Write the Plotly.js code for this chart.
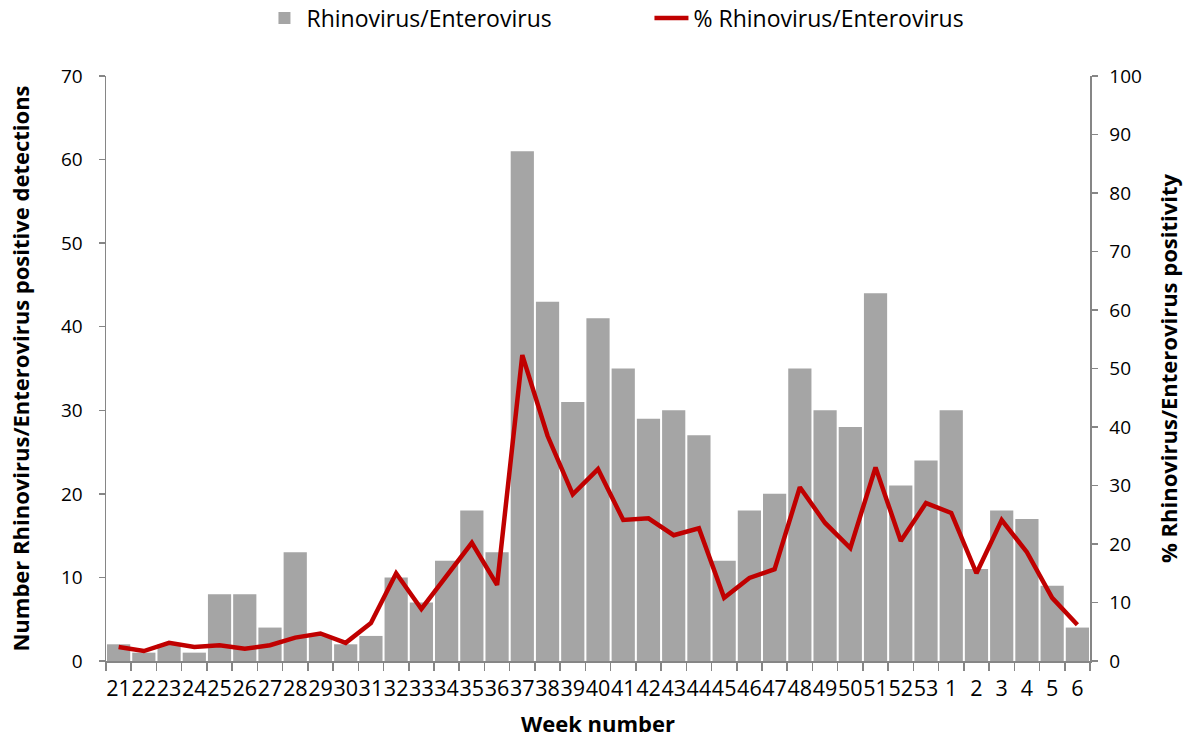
<!DOCTYPE html>
<html>
<head>
<meta charset="utf-8">
<script src="https://cdn.plot.ly/plotly-3.0.1.min.js"></script>
<style>html,body{margin:0;padding:0;background:#fff;}#chart{width:1184px;height:738px;}</style>
</head>
<body>
<div id="chart"></div>
<script>
var weeks = ["21","22","23","24","25","26","27","28","29","30","31","32","33","34","35","36","37","38","39","40","41","42","43","44","45","46","47","48","49","50","51","52","53","1","2","3","4","5","6"];
var detections = [2,1,2,1,8,8,4,13,3,2,3,10,7,12,18,13,61,43,31,41,35,29,30,27,12,18,20,35,30,28,44,21,24,30,11,18,17,9,4];
var positivity = [2.4,1.7,3.1,2.4,2.7,2.1,2.7,4.0,4.7,3.1,6.5,15.0,8.9,14.5,20.2,13.0,52.3,38.5,28.5,32.8,24.1,24.4,21.5,22.7,10.8,14.2,15.7,29.7,23.6,19.3,33.1,20.5,27.0,25.3,15.0,24.1,18.6,10.8,6.2];

var fontFam = "Open Sans, sans-serif";
var axisCol = "#868686";

var traces = [
  {type:"bar", x:weeks, y:detections, name:"Rhinovirus/Enterovirus",
   marker:{color:"#a5a5a5"}, yaxis:"y"},
  {type:"scatter", mode:"lines", x:weeks, y:positivity, name:"% Rhinovirus/Enterovirus",
   line:{color:"#c00000", width:4.5}, yaxis:"y2"}
];

var layout = {
  width:1184, height:738,
  margin:{l:106, r:94, t:76, b:77, autoexpand:false},
  paper_bgcolor:"#fff", plot_bgcolor:"#fff",
  font:{family:fontFam, size:19, color:"#000"},
  bargap:0.08,
  showlegend:true,
  legend:{orientation:"h", x:0.159, xanchor:"left", y:1.099, yanchor:"middle",
          entrywidth:338, entrywidthmode:"pixels",
          font:{family:fontFam, size:23, color:"#000"}, itemwidth:34, tracegroupgap:0},
  xaxis:{type:"category", showline:true, linecolor:axisCol, linewidth:1.5,
         tickmode:"linear", dtick:1, tick0:0,
         ticks:"outside", tickson:"boundaries", ticklen:8, tickcolor:axisCol, tickwidth:1.5,
         showgrid:false, zeroline:false, tickangle:0, ticklabelstandoff:8,
         tickfont:{family:fontFam, size:21.5},
         title:{text:"<b>Week number</b>", font:{family:fontFam, size:22}, standoff:20}},
  yaxis:{range:[0,70], dtick:10, showline:true, linecolor:axisCol, linewidth:1.5,
         ticks:"outside", ticklen:6, tickcolor:axisCol, tickwidth:1.5, ticklabelstandoff:12,
         showgrid:false, zeroline:false, tickfont:{family:fontFam, size:19},
         title:{text:"<b>Number Rhinovirus/Enterovirus positive detections</b>", font:{family:fontFam, size:22}, standoff:25}},
  yaxis2:{range:[0,100], dtick:10, overlaying:"y", side:"right", showline:true, linecolor:axisCol, linewidth:1.5,
          ticks:"outside", ticklen:6, tickcolor:axisCol, tickwidth:1.5, ticklabelstandoff:8,
          showgrid:false, zeroline:false, tickfont:{family:fontFam, size:19},
          title:{text:"<b>% Rhinovirus/Enterovirus positivity</b>", font:{family:fontFam, size:22}, standoff:20}}
};

Plotly.newPlot("chart", traces, layout, {displayModeBar:false, staticPlot:true});
</script>
</body>
</html>
